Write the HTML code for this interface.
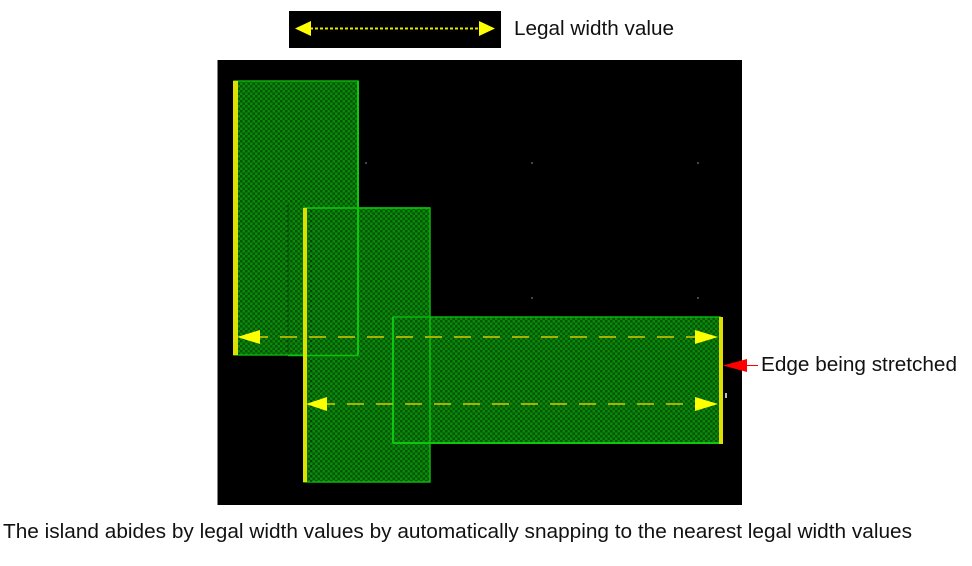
<!DOCTYPE html>
<html><head><meta charset="utf-8">
<style>html,body{margin:0;padding:0;background:#fff;width:972px;height:566px;overflow:hidden}svg{display:block}
text{font-family:"Liberation Sans",sans-serif;font-size:20px;fill:#111}</style></head>
<body>
<svg width="972" height="566" viewBox="0 0 972 566" xmlns="http://www.w3.org/2000/svg">
<defs>
<pattern id="p" width="5" height="5" patternUnits="userSpaceOnUse">
<rect width="5" height="5" fill="#0a8a0a"/>
<rect x="0" y="0" width="2.500" height="2.500" fill="#055505"/>
<rect x="2.500" y="2.500" width="2.500" height="2.500" fill="#055505"/>
</pattern>
</defs>
<rect x="289" y="11" width="212" height="37" fill="#000"/>
<line x1="305" y1="28.500" x2="485" y2="28.500" stroke="#e8e800" stroke-width="2" stroke-dasharray="3 2"/>
<polygon points="295,28.500 311,21 311,36" fill="#ffff00"/>
<polygon points="495,28.500 479,21 479,36" fill="#ffff00"/>
<text x="514" y="35" textLength="160" lengthAdjust="spacingAndGlyphs">Legal width value</text>

<rect x="217.500" y="60" width="524.500" height="445" fill="#000"/>
<g fill="#444">
<rect x="365" y="162" width="2" height="2"/><rect x="531" y="162" width="2" height="2"/><rect x="697" y="162" width="2" height="2"/>
<rect x="531" y="297" width="2" height="2"/><rect x="697" y="297" width="2" height="2"/>
</g>
<rect x="366" y="297" width="2" height="2" fill="#999"/>
<rect x="725" y="393" width="2" height="5" fill="#bbb"/>

<rect x="234" y="81" width="124" height="274" fill="url(#p)" stroke="#0cac0c" stroke-width="1.500"/>
<rect x="304" y="208" width="126" height="274" fill="url(#p)" stroke="#0cb40c" stroke-width="1.500"/>
<rect x="393" y="317" width="327" height="126" fill="url(#p)" stroke="#0cb40c" stroke-width="1.500"/>

<line x1="288" y1="205" x2="288" y2="355" stroke="#032803" stroke-width="1" stroke-dasharray="2 3"/>
<line x1="311" y1="205" x2="311" y2="482" stroke="#032803" stroke-width="1" stroke-dasharray="2 3"/>

<line x1="358" y1="81" x2="358" y2="355" stroke="#0cc80c" stroke-width="2"/>
<line x1="288" y1="355.500" x2="358" y2="355.500" stroke="#0cc00c" stroke-width="1.500"/>
<line x1="430" y1="317" x2="430" y2="443" stroke="#0cc00c" stroke-width="1.500"/>
<line x1="393" y1="317" x2="393" y2="443" stroke="#0cc80c" stroke-width="2"/>
<line x1="393" y1="443" x2="720" y2="443" stroke="#0cc80c" stroke-width="2"/>
<line x1="304" y1="208" x2="430" y2="208" stroke="#0cc00c" stroke-width="1.500"/>

<rect x="233" y="81" width="5" height="274" fill="#e0e000"/>
<rect x="303" y="208" width="4" height="274" fill="#e0e000"/>
<rect x="719" y="317" width="4" height="127" fill="#e0e000"/>

<line x1="260" y1="337" x2="696" y2="337" stroke="#a8b000" stroke-width="2" stroke-dasharray="17 12" stroke-dashoffset="9"/>
<line x1="327" y1="404" x2="696" y2="404" stroke="#a8b000" stroke-width="2" stroke-dasharray="17 12" stroke-dashoffset="9"/>
<polygon points="237,337 260,330 260,344" fill="#ffff00"/>
<polygon points="306,404 327,397 327,411" fill="#ffff00"/>
<polygon points="718,337 695,330 695,344" fill="#ffff00"/>
<polygon points="718,404 695,397 695,411" fill="#ffff00"/>

<polygon points="723,365.500 747,359 747,372" fill="#ff0000"/>
<line x1="747" y1="365.500" x2="758" y2="365.500" stroke="#ff0000" stroke-width="1"/>
<text x="761" y="371" textLength="196" lengthAdjust="spacingAndGlyphs">Edge being stretched</text>
<text x="3" y="538" textLength="909" lengthAdjust="spacingAndGlyphs">The island abides by legal width values by automatically snapping to the nearest legal width values</text>
</svg>
</body></html>
